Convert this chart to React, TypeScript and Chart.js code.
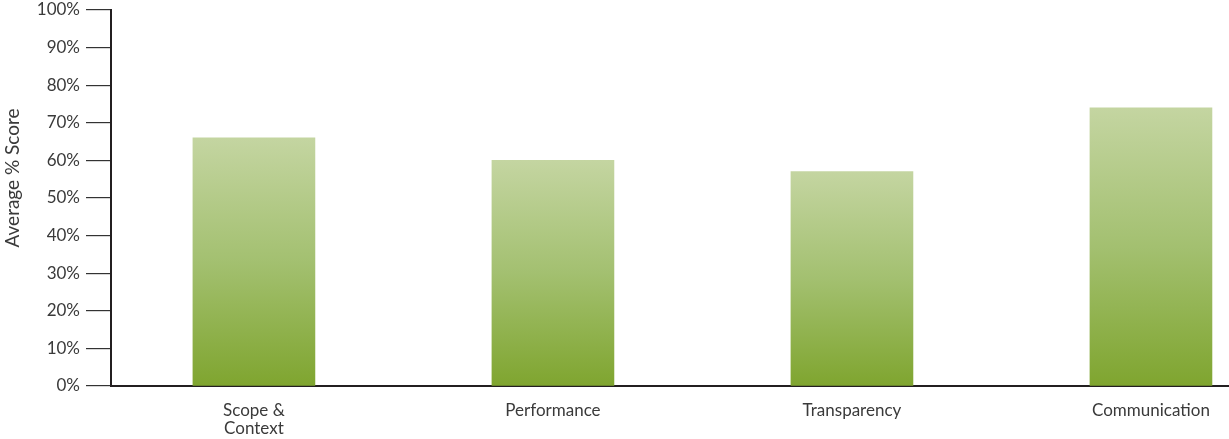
import React, { useEffect, useRef } from "react";
import { Chart, registerables } from "chart.js";

Chart.register(...registerables);

const categories: (string | string[])[] = [["Scope &", "Context"], "Performance", "Transparency", "Communication"];
const scores: number[] = [66, 60, 57, 74];
const yTickValues: number[] = [0, 10, 20, 30, 40, 50, 60, 70, 80, 90, 100];
const yAxisTitle = "Average % Score";

const FONT = "Lato, 'Noto Sans', sans-serif";
const TEXT = "#3a3a3a";
const AXIS = "#231f20";

const yTitlePlugin = {
  id: "yTitle",
  afterDraw(chart: any) {
    const ctx = chart.ctx;
    ctx.save();
    ctx.translate(13, 178);
    ctx.rotate(-Math.PI / 2);
    ctx.font = `19px ${FONT}`;
    ctx.fillStyle = TEXT;
    ctx.textAlign = "center";
    ctx.textBaseline = "middle";
    ctx.fillText(yAxisTitle, 0, 0);
    ctx.restore();
  },
};

export default function App() {
  const ref = useRef<HTMLCanvasElement | null>(null);
  useEffect(() => {
    if (!ref.current) return;
    const chart = new Chart(ref.current, {
      type: "bar",
      data: {
        datasets: [
          {
            data: scores.map((v, i) => ({ x: i, y: v })),
            barThickness: 122,
            borderWidth: 0,
            backgroundColor: (c: any) => {
              const ch = c.chart;
              const ys = ch.scales?.y;
              if (!ys || !c.raw || !ch.chartArea) return "#9bb864";
              const top = ys.getPixelForValue(c.raw.y);
              const bottom = ys.getPixelForValue(0);
              if (!isFinite(top) || !isFinite(bottom) || top === bottom) return "#9bb864";
              const g = ch.ctx.createLinearGradient(0, top, 0, bottom);
              g.addColorStop(0, "#c4d5a1");
              g.addColorStop(0.5, "#a3c070");
              g.addColorStop(1, "#7fa52f");
              return g;
            },
          } as any,
        ],
      },
      options: {
        responsive: false,
        animation: false,
        layout: { padding: { top: 10, right: 0, bottom: 0, left: 0 } },
        plugins: { legend: { display: false }, tooltip: { enabled: false } },
        scales: {
          x: {
            type: "linear",
            position: "bottom",
            offset: false,
            min: -0.478,
            max: 3.261,
            afterBuildTicks: (axis: any) => {
              axis.ticks = categories.map((_, i) => ({ value: i }));
            },
            afterFit: (axis: any) => {
              axis.height = 53;
              axis.paddingLeft = 0;
              axis.paddingRight = 0;
            },
            grid: { offset: false, drawOnChartArea: false, drawTicks: false, color: "rgba(0,0,0,0)" },
            border: { display: true, color: AXIS, width: 2 },
            ticks: {
              autoSkip: false,
              maxRotation: 0,
              padding: 16,
              color: TEXT,
              font: { family: FONT, size: 17, lineHeight: 1.05 },
              callback: (v: any) => categories[Math.round(Number(v))] as any,
            },
          },
          y: {
            min: 0,
            max: 100,
            afterBuildTicks: (axis: any) => {
              axis.ticks = yTickValues.map((v) => ({ value: v }));
            },
            afterFit: (axis: any) => {
              axis.width = 111;
              axis.paddingTop = 0;
              axis.paddingBottom = 0;
            },
            grid: { drawOnChartArea: false, drawTicks: true, tickLength: 25, color: "#333333", lineWidth: 1.2 },
            border: { display: true, color: AXIS, width: 2 },
            ticks: {
              padding: 6,
              color: TEXT,
              font: { family: FONT, size: 17 },
              callback: (v: any) => `${v}%`,
            },
          },
        },
      } as any,
      plugins: [yTitlePlugin],
    });
    return () => chart.destroy();
  }, []);
  return (
    <canvas
      ref={ref}
      width={1229}
      height={439}
      style={{ position: "absolute", left: 0, top: 0, display: "block" }}
    />
  );
}
